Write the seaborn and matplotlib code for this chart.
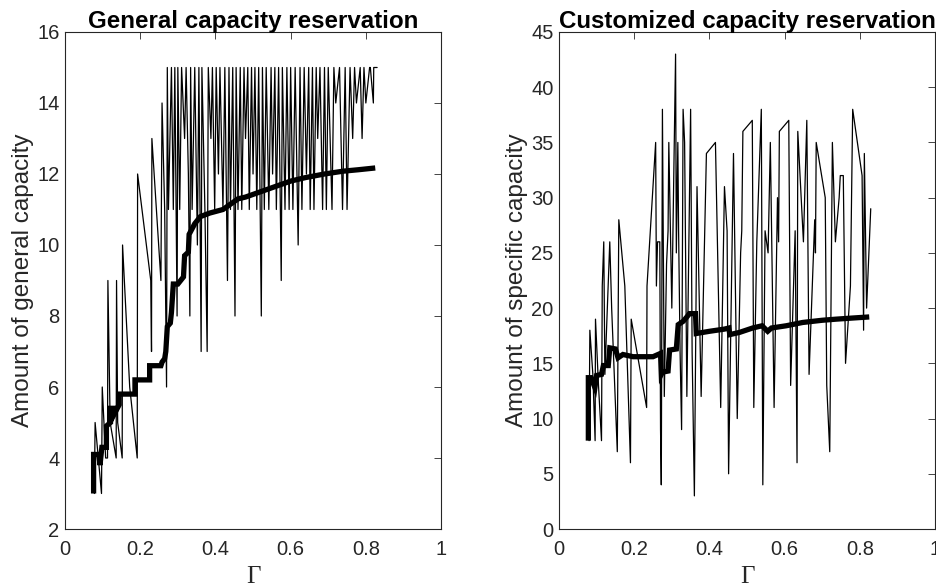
import numpy as np
import pandas as pd
import matplotlib
matplotlib.use("Agg")
import matplotlib.pyplot as plt
import seaborn as sns

sns.set_theme(style="white")
plt.rcParams['font.family'] = ['Liberation Sans', 'DejaVu Sans']

# ---------------- data: general capacity ----------------
gen_x = [0.078, 0.080, 0.097, 0.099, 0.108, 0.113, 0.114, 0.120, 0.136, 0.137, 0.140, 0.152, 0.153,
         0.172, 0.192, 0.193, 0.228, 0.230, 0.231, 0.255, 0.258, 0.265, 0.270, 0.272, 0.275, 0.283,
         0.288, 0.292, 0.298, 0.300, 0.305, 0.310, 0.318, 0.322, 0.328, 0.332, 0.334, 0.338, 0.345,
         0.352, 0.356, 0.362, 0.364, 0.372, 0.378, 0.381, 0.388, 0.392, 0.398, 0.402, 0.408, 0.412,
         0.420, 0.425, 0.432, 0.436, 0.440, 0.446, 0.452, 0.455, 0.460, 0.466, 0.470, 0.476, 0.480,
         0.486, 0.490, 0.496, 0.500, 0.505, 0.510, 0.515, 0.522, 0.525, 0.530, 0.535, 0.542, 0.548,
         0.552, 0.558, 0.562, 0.568, 0.575, 0.578, 0.585, 0.590, 0.596, 0.600, 0.606, 0.612, 0.620,
         0.625, 0.630, 0.636, 0.642, 0.648, 0.652, 0.658, 0.662, 0.668, 0.672, 0.678, 0.685, 0.690,
         0.695, 0.700, 0.710, 0.715, 0.720, 0.730, 0.738, 0.745, 0.750, 0.758, 0.765, 0.770, 0.775,
         0.785, 0.790, 0.795, 0.800, 0.810, 0.812, 0.820, 0.821, 0.830]
gen_y = [3, 5, 3, 6, 4, 4, 9, 5, 4, 9, 5, 4, 10,
         6, 4, 12, 9, 7, 13, 9, 14, 11, 6, 15, 11, 15,
         11, 15, 8, 15, 11, 15, 13, 15, 12, 8, 15, 11, 15,
         10, 15, 7, 15, 11, 7, 15, 13, 15, 11, 15, 12, 15,
         11, 15, 9, 15, 11, 15, 8, 15, 11, 15, 11, 15, 13,
         15, 11, 15, 12, 15, 11, 15, 8, 15, 11, 15, 11, 15,
         12, 15, 11, 15, 9, 15, 11, 15, 11, 15, 11, 15, 10,
         15, 11, 15, 12, 15, 11, 15, 11, 15, 13, 15, 11, 15,
         11, 15, 11, 15, 14, 15, 11, 15, 11, 15, 13, 15, 14,
         15, 13, 15, 14, 15, 15, 14, 15, 15]

gen_avg_x = [0.076, 0.076, 0.090, 0.093, 0.098, 0.110, 0.110, 0.121, 0.121, 0.134, 0.134, 0.144,
             0.144, 0.186, 0.186, 0.225, 0.225, 0.255, 0.258, 0.265, 0.268, 0.272, 0.280, 0.283,
             0.288, 0.300, 0.315, 0.318, 0.328, 0.330, 0.345, 0.360, 0.385, 0.420, 0.460, 0.480,
             0.520, 0.560, 0.600, 0.640, 0.690, 0.740, 0.780, 0.825]
gen_avg_y = [3.0, 4.1, 4.1, 3.8, 4.3, 4.3, 4.9, 5.0, 5.4, 5.4, 5.3, 5.5,
             5.8, 5.8, 6.2, 6.2, 6.6, 6.6, 6.7, 6.8, 7.0, 7.7, 7.8, 8.1,
             8.9, 8.9, 9.1, 9.7, 9.8, 10.3, 10.6, 10.8, 10.9, 11.0, 11.3, 11.35,
             11.5, 11.65, 11.8, 11.9, 12.0, 12.08, 12.12, 12.17]

# ---------------- data: customized capacity ----------------
cus_x = [0.080, 0.082, 0.090, 0.096, 0.097, 0.105, 0.113, 0.115, 0.119, 0.122, 0.135, 0.140, 0.155,
         0.159, 0.175, 0.190, 0.192, 0.233, 0.234, 0.257, 0.259, 0.262, 0.268, 0.270, 0.272, 0.275,
         0.280, 0.286, 0.290, 0.292, 0.300, 0.310, 0.312, 0.316, 0.318, 0.322, 0.326, 0.330, 0.334,
         0.340, 0.350, 0.354, 0.360, 0.367, 0.378, 0.392, 0.416, 0.430, 0.440, 0.447, 0.451, 0.464,
         0.474, 0.483, 0.486, 0.489, 0.514, 0.518, 0.526, 0.538, 0.542, 0.548, 0.556, 0.562, 0.572,
         0.581, 0.584, 0.586, 0.611, 0.616, 0.628, 0.633, 0.635, 0.650, 0.659, 0.665, 0.680, 0.682,
         0.684, 0.708, 0.712, 0.720, 0.727, 0.735, 0.745, 0.748, 0.756, 0.762, 0.775, 0.781, 0.806,
         0.810, 0.812, 0.818, 0.829]
cus_y = [8, 18, 14, 8, 19, 13, 8, 22, 26, 14, 26, 20, 7,
         28, 22, 6, 19, 11, 22, 35, 22, 26, 26, 9, 4, 38,
         12, 24, 27, 35, 20, 43, 25, 35, 27, 16, 9, 38, 35,
         12, 38, 16, 3, 31, 12, 34, 35, 11, 31, 27, 5, 34,
         10, 25, 27, 36, 37, 11, 26, 38, 4, 27, 25, 35, 11,
         30, 26, 36, 37, 13, 27, 6, 36, 26, 37, 14, 28, 25,
         35, 30, 13, 7, 35, 26, 30, 32, 32, 15, 22, 38, 32,
         18, 34, 20, 29]

cus_avg_x = [0.078, 0.078, 0.085, 0.0955, 0.100, 0.113, 0.118, 0.131, 0.135, 0.150, 0.157, 0.170,
             0.197, 0.250, 0.270, 0.272, 0.275, 0.290, 0.294, 0.312, 0.317, 0.330, 0.340, 0.347,
             0.363, 0.365, 0.400, 0.440, 0.452, 0.454, 0.480, 0.515, 0.540, 0.555, 0.565, 0.604,
             0.648, 0.700, 0.737, 0.780, 0.825]
cus_avg_y = [8.0, 13.7, 13.7, 12.8, 13.9, 14.0, 14.8, 14.8, 16.4, 16.3, 15.5, 15.8,
             15.6, 15.6, 15.9, 14.0, 14.2, 14.3, 16.2, 16.3, 18.5, 18.8, 19.2, 19.5,
             19.5, 17.7, 17.9, 18.1, 18.2, 17.6, 17.8, 18.2, 18.4, 17.9, 18.2, 18.4,
             18.7, 18.9, 19.0, 19.1, 19.2]

# ---------------- figure ----------------
fig = plt.figure(figsize=(9.37, 5.87), dpi=100)
ax1 = fig.add_axes([0.0694, 0.0988, 0.4013, 0.8467])
ax2 = fig.add_axes([0.5966, 0.0988, 0.4013, 0.8467])

axc = (0.15, 0.15, 0.15)

def draw(ax, x, y, ax_, ay_, ylim, yticks, title, ylabel):
    sns.lineplot(x=x, y=y, ax=ax, sort=False, estimator=None, color='black', lw=0.9)
    sns.lineplot(x=ax_, y=ay_, ax=ax, sort=False, estimator=None, color='black', lw=3.8,
                 solid_capstyle='butt', solid_joinstyle='miter')
    ax.set_xlim(0, 1)
    ax.set_ylim(*ylim)
    ax.set_xticks([0, 0.2, 0.4, 0.6, 0.8, 1])
    ax.set_xticklabels(['0', '0.2', '0.4', '0.6', '0.8', '1'])
    ax.set_yticks(yticks)
    ax.set_yticklabels([str(v) for v in yticks])
    ax.tick_params(direction='in', length=5, width=0.6, colors=axc, labelsize=14.5,
                   top=True, right=True)
    ax.tick_params(axis='x', pad=8)
    ax.tick_params(axis='y', pad=4)
    for s in ax.spines.values():
        s.set_color(axc)
        s.set_linewidth(0.8)
        s.set_visible(True)
    ax.set_title(title, fontsize=17.4, fontweight='bold', color='black', pad=3)
    ax.set_ylabel(ylabel, fontsize=17.5, color=axc, labelpad=2)
    ax.set_xlabel('Γ', fontsize=18, color=axc, family=['Liberation Serif', 'DejaVu Serif'], labelpad=5)
    ax.set_facecolor('white')

draw(ax1, gen_x, gen_y, gen_avg_x, gen_avg_y, (2, 16), list(range(2, 17, 2)),
     'General capacity reservation', 'Amount of general capacity')
draw(ax2, cus_x, cus_y, cus_avg_x, cus_avg_y, (0, 45), list(range(0, 46, 5)),
     'Customized capacity reservation', 'Amount of specific capacity')

fig.savefig('out.png', dpi=100, facecolor='white')
